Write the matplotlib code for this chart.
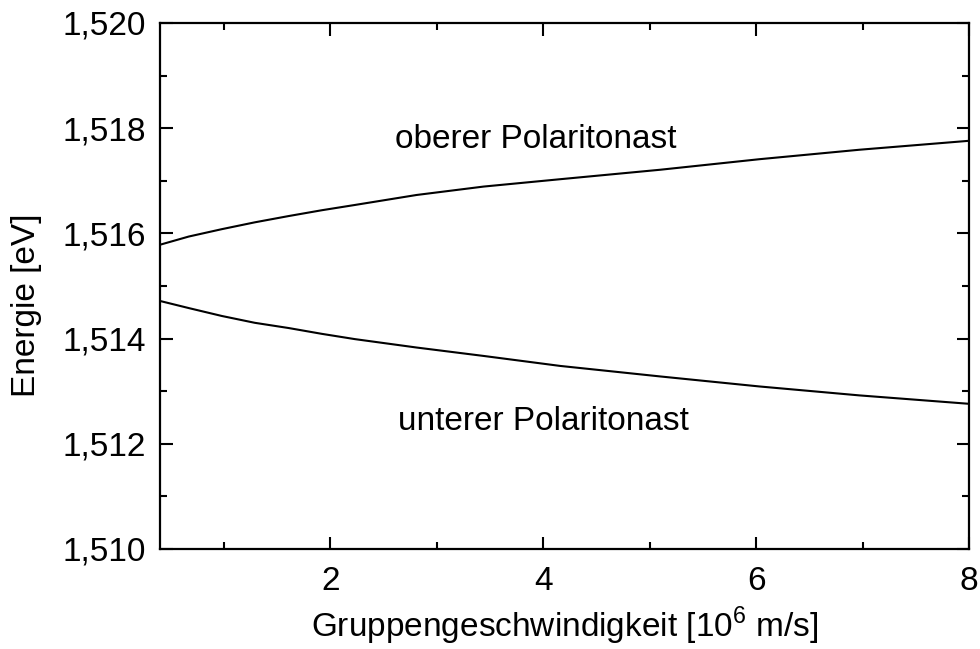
import matplotlib
matplotlib.use("Agg")
import matplotlib.pyplot as plt
from matplotlib.ticker import MultipleLocator, FuncFormatter

plt.rcParams['font.family'] = ['Liberation Sans', 'DejaVu Sans']
plt.rcParams['mathtext.fontset'] = 'custom'
plt.rcParams['mathtext.rm'] = 'Liberation Sans'

# Gruppengeschwindigkeit in 10^6 m/s
v_gruppe = [0.41, 0.67, 0.98, 1.29, 1.61, 1.92, 2.23, 2.81, 3.44, 4.16,
            5.10, 6.03, 6.97, 8.0]
# Energie der beiden Polaritonaeste in eV
e_oben = [1.51579, 1.51594, 1.51608, 1.51621, 1.51633, 1.51644, 1.51654,
          1.51673, 1.51689, 1.51703, 1.51721, 1.51741, 1.51759, 1.51776]
e_unten = [1.51471, 1.51458, 1.51443, 1.51430, 1.51420, 1.51409, 1.51399,
           1.51383, 1.51367, 1.51348, 1.51328, 1.51309, 1.51292, 1.51276]

x_ticks = [2, 4, 6, 8]
fs = 24

fig = plt.figure(figsize=(9.8, 6.49), dpi=100)
ax = fig.add_axes([0.1633, 0.1541, 0.8255, 0.8105])

ax.plot(v_gruppe, e_oben, color='black', lw=1.5)
ax.plot(v_gruppe, e_unten, color='black', lw=1.5)

ax.text(3.93, 1.51778, 'oberer Polaritonast', fontsize=fs, ha='center', va='center')
ax.text(4.0, 1.51243, 'unterer Polaritonast', fontsize=fs, ha='center', va='center')

ax.set_xlim(0.4, 8)
ax.set_ylim(1.510, 1.520)
ax.set_xticks(x_ticks)
ax.xaxis.set_minor_locator(MultipleLocator(1))
ax.yaxis.set_major_locator(MultipleLocator(0.002))
ax.yaxis.set_minor_locator(MultipleLocator(0.001))
ax.yaxis.set_major_formatter(FuncFormatter(lambda v, p: f'{v:.3f}'.replace('.', ',')))
ax.xaxis.set_major_formatter(FuncFormatter(lambda v, p: f'{v:g}'))

ax.tick_params(which='both', direction='in', top=True, right=True, width=1.5,
               labelsize=fs, color='black')
ax.tick_params(which='major', length=9)
ax.tick_params(which='minor', length=5)
ax.tick_params(axis='y', which='major', pad=10)
ax.tick_params(axis='x', which='major', pad=12)
for s in ax.spines.values():
    s.set_linewidth(1.6)

ax.set_xlabel(r'Gruppengeschwindigkeit [10$^{\mathregular{6}}$ m/s]', fontsize=fs, labelpad=6)
ax.set_ylabel('Energie [eV]', fontsize=fs)
ax.yaxis.set_label_coords(-0.146, 0.464)

fig.savefig('out.png', dpi=100)
